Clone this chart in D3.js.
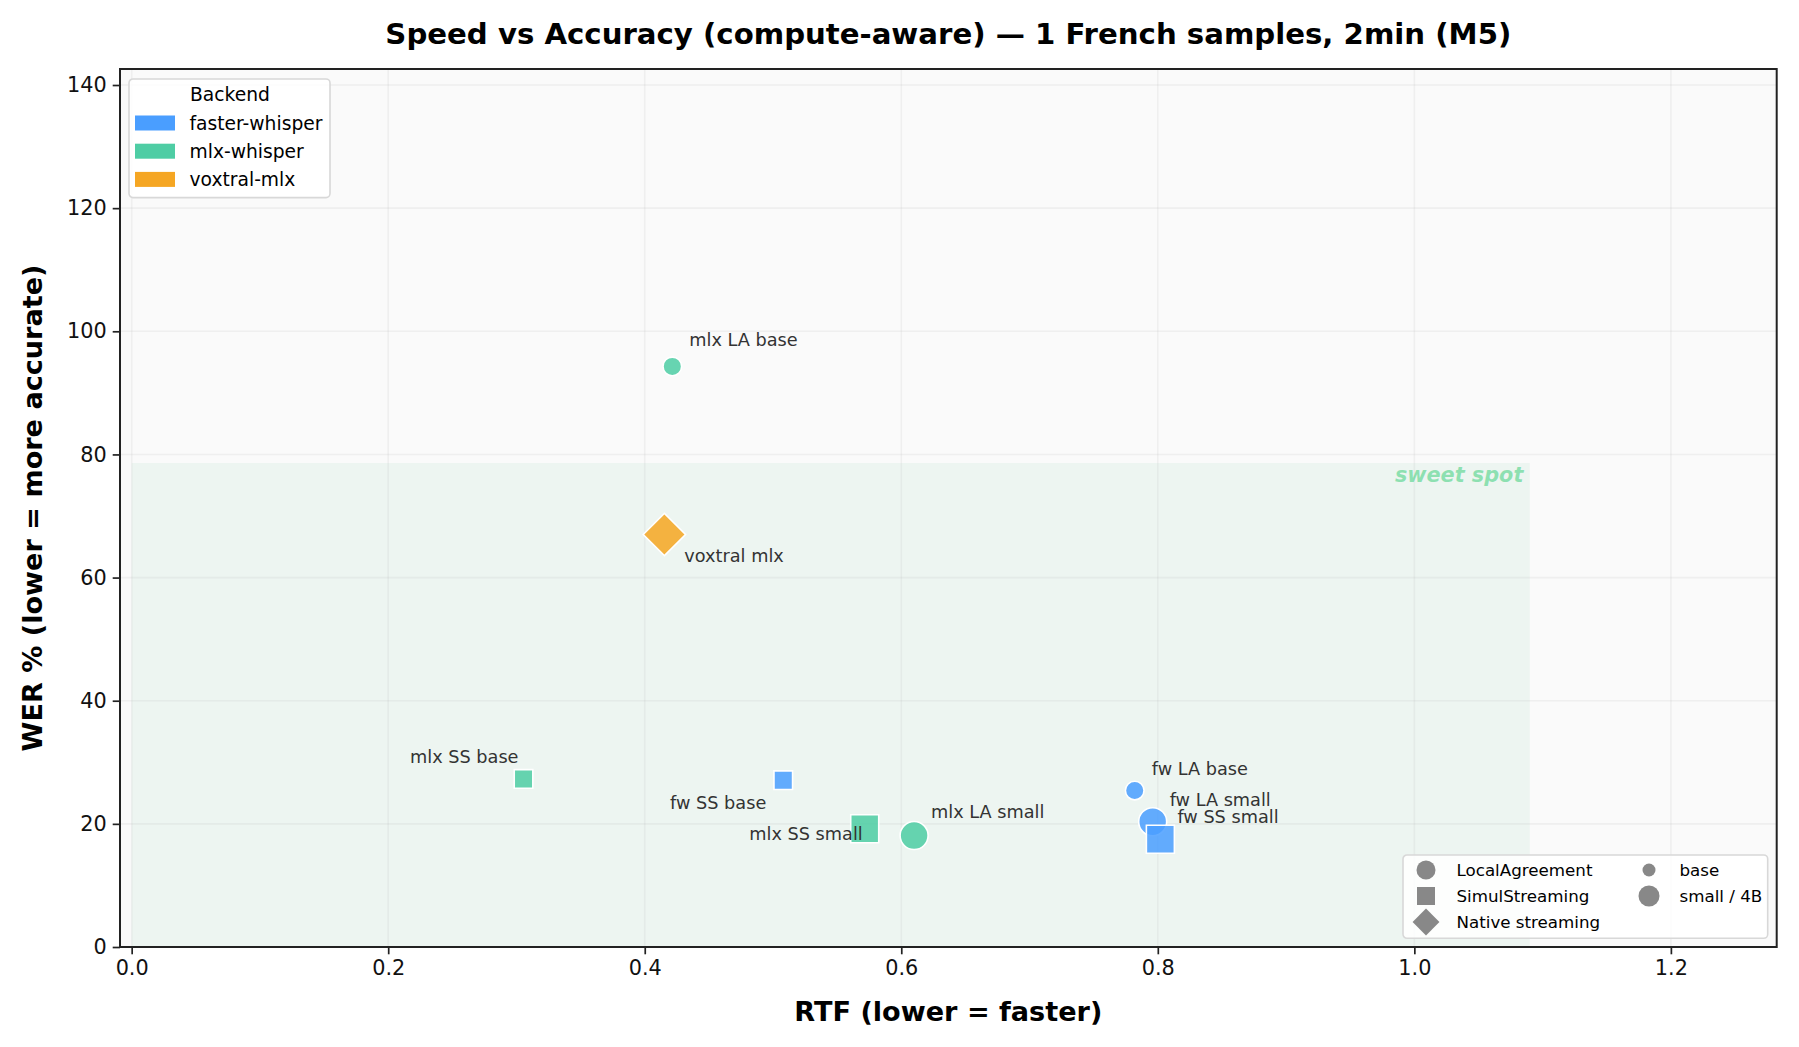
<!DOCTYPE html>
<html>
<head>
<meta charset="utf-8">
<script src="https://cdn.jsdelivr.net/npm/d3@7"></script>
<style>
  body { margin: 0; background: #fff; }
  text { font-family: "DejaVu Sans", sans-serif; }
</style>
</head>
<body>
<svg id="chart"></svg>
<script>
const width = 1799;
const height = 1047;
const plotLeft = 120, plotRight = 1776.7, plotTop = 69, plotBottom = 947;

// данные
const labels = ["fw LA base", "fw LA small", "fw SS base", "fw SS small",
    "mlx LA base", "mlx LA small", "mlx SS base", "mlx SS small", "voxtral mlx"];
const backends = ["faster-whisper", "faster-whisper", "faster-whisper", "faster-whisper",
    "mlx-whisper", "mlx-whisper", "mlx-whisper", "mlx-whisper", "voxtral-mlx"];
const policies = ["LA", "LA", "SS", "SS", "LA", "LA", "SS", "SS", "native"];
const sizes = ["base", "small", "base", "small", "base", "small", "base", "small", "4B"];
const rtf = [0.782, 0.796, 0.508, 0.802, 0.4215, 0.610, 0.3055, 0.5715, 0.4153];
const wer = [25.4, 20.35, 27.1, 17.5, 94.3, 18.1, 27.3, 19.2, 67.0];

const backendNames = ["faster-whisper", "mlx-whisper", "voxtral-mlx"];
const backendColors = ["#4a9eff", "#4ecda4", "#f5a623"];
const policyNames = ["LocalAgreement", "SimulStreaming", "Native streaming"];
const sizeNames = ["base", "small / 4B"];

const xTicks = [0.0, 0.2, 0.4, 0.6, 0.8, 1.0, 1.2];
const yTicks = [0, 20, 40, 60, 80, 100, 120, 140];
const sweetSpot = { rtf: 1.09, wer: 78.6 };

// сдвиги подписей (px): dx, dy, выравнивание
const labelOffsets = {
    "fw LA base": [17, -16, "start"],
    "fw LA small": [17, -16, "start"],
    "fw SS base": [-17, 29, "end"],
    "fw SS small": [17, -16, "start"],
    "mlx LA base": [17, -20, "start"],
    "mlx LA small": [17, -18, "start"],
    "mlx SS base": [-5, -16, "end"],
    "mlx SS small": [-2, 11, "end"],
    "voxtral mlx": [20, 28, "start"]
};

const data = labels.map((l, i) => ({
    label: l, backend: backends[i], policy: policies[i],
    size: sizes[i], rtf: rtf[i], wer: wer[i]
}));

let svg = d3.select("#chart").attr("width", width).attr("height", height);

const scaleX = d3.scaleLinear().domain([-0.0091, 1.2825]).range([plotLeft, plotRight]);
const scaleY = d3.scaleLinear().domain([0, 142.6]).range([plotBottom, plotTop]);
const color = d3.scaleOrdinal().domain(backendNames).range(backendColors);

// фон области графика
svg.append("rect")
    .attr("x", plotLeft).attr("y", plotTop)
    .attr("width", plotRight - plotLeft).attr("height", plotBottom - plotTop)
    .attr("fill", "#fafafa");

// зона sweet spot
svg.append("rect")
    .attr("x", scaleX(0)).attr("y", scaleY(sweetSpot.wer))
    .attr("width", scaleX(sweetSpot.rtf) - scaleX(0))
    .attr("height", scaleY(0) - scaleY(sweetSpot.wer))
    .attr("fill", "#edf5f1");

// сетка
svg.append("g").selectAll("line").data(xTicks).enter().append("line")
    .attr("x1", d => scaleX(d)).attr("x2", d => scaleX(d))
    .attr("y1", plotTop).attr("y2", plotBottom)
    .attr("stroke", "#b0b0b0").attr("stroke-opacity", 0.14).attr("stroke-width", 1.6);
svg.append("g").selectAll("line").data(yTicks).enter().append("line")
    .attr("x1", plotLeft).attr("x2", plotRight)
    .attr("y1", d => scaleY(d)).attr("y2", d => scaleY(d))
    .attr("stroke", "#b0b0b0").attr("stroke-opacity", 0.14).attr("stroke-width", 1.6);

svg.append("text")
    .attr("x", scaleX(1.085)).attr("y", scaleY(sweetSpot.wer) + 19)
    .attr("text-anchor", "end")
    .style("font-size", "20.8px").style("font-weight", "bold").style("font-style", "italic")
    .attr("fill", "#2ecc71").attr("fill-opacity", 0.5)
    .text("sweet spot");

// маркеры
function markerPath(policy, size) {
    if (policy === "native") return d3.symbol(d3.symbolSquare, 30 * 30)();
    const d = size === "base" ? 18.6 : 28;
    if (policy === "LA") return d3.symbol(d3.symbolCircle, Math.PI * d * d / 4)();
    return d3.symbol(d3.symbolSquare, d * d)();
}

svg.append("g").selectAll("path").data(data).enter().append("path")
    .attr("d", d => markerPath(d.policy, d.size))
    .attr("transform", d => `translate(${scaleX(d.rtf)},${scaleY(d.wer)})` + (d.policy === "native" ? " rotate(45)" : ""))
    .attr("fill", d => color(d.backend))
    .attr("fill-opacity", 0.86)
    .attr("stroke", "#fff").attr("stroke-width", 1.6);

// подписи точек
svg.append("g").selectAll("text").data(data).enter().append("text")
    .attr("x", d => scaleX(d.rtf) + labelOffsets[d.label][0])
    .attr("y", d => scaleY(d.wer) + labelOffsets[d.label][1])
    .attr("text-anchor", d => labelOffsets[d.label][2])
    .style("font-size", "17.7px")
    .attr("fill", "#333")
    .text(d => d.label);

// оси
let axisX = d3.axisBottom(scaleX).tickValues(xTicks).tickFormat(d3.format(".1f")).tickSize(7.3).tickPadding(6);
let axisY = d3.axisLeft(scaleY).tickValues(yTicks).tickSize(7.3).tickPadding(6);
let gx = svg.append("g").attr("transform", `translate(0,${plotBottom})`).call(axisX);
let gy = svg.append("g").attr("transform", `translate(${plotLeft},0)`).call(axisY);
[gx, gy].forEach(g => {
    g.select(".domain").remove();
    g.selectAll("line").attr("stroke", "#222").attr("stroke-width", 1.7);
    g.selectAll("text").style("font-size", "20.8px").style("font-family", "DejaVu Sans").attr("fill", "#111");
});

// рамка
svg.append("rect")
    .attr("x", plotLeft).attr("y", plotTop)
    .attr("width", plotRight - plotLeft).attr("height", plotBottom - plotTop)
    .attr("fill", "none").attr("stroke", "#222").attr("stroke-width", 2);

// заголовки
svg.append("text")
    .attr("x", (plotLeft + plotRight) / 2).attr("y", 34)
    .attr("text-anchor", "middle").attr("dominant-baseline", "central")
    .style("font-size", "29.2px").style("font-weight", "bold")
    .text("Speed vs Accuracy (compute-aware) \u2014 1 French samples, 2min (M5)");
svg.append("text")
    .attr("x", (plotLeft + plotRight) / 2).attr("y", 1011)
    .attr("text-anchor", "middle").attr("dominant-baseline", "central")
    .style("font-size", "27.1px").style("font-weight", "bold")
    .text("RTF (lower = faster)");
svg.append("text")
    .attr("transform", `translate(32,${(plotTop + plotBottom) / 2}) rotate(-90)`)
    .attr("text-anchor", "middle").attr("dominant-baseline", "central")
    .style("font-size", "27.1px").style("font-weight", "bold")
    .text("WER % (lower = more accurate)");

// легенда backend
let leg1 = svg.append("g").attr("transform", "translate(129,79)");
leg1.append("rect").attr("width", 201).attr("height", 118.6).attr("rx", 4)
    .attr("fill", "#fff").attr("fill-opacity", 0.85)
    .attr("stroke", "#d8d8d8").attr("stroke-width", 1.6);
leg1.append("text").attr("x", 101).attr("y", 15.5)
    .attr("text-anchor", "middle").attr("dominant-baseline", "central")
    .style("font-size", "18.7px").text("Backend");
let rows1 = leg1.selectAll(".row").data(backendNames).enter().append("g")
    .attr("transform", (d, i) => `translate(0,${44 + i * 28.2})`);
rows1.append("rect").attr("x", 6).attr("y", -7.5).attr("width", 40).attr("height", 15)
    .attr("fill", d => color(d));
rows1.append("text").attr("x", 60.5).attr("y", 0).attr("dominant-baseline", "central")
    .style("font-size", "18.7px").text(d => d);

// легенда форм и размеров
let leg2 = svg.append("g").attr("transform", "translate(1403,855)");
leg2.append("rect").attr("width", 364.7).attr("height", 83.3).attr("rx", 4)
    .attr("fill", "#fff").attr("fill-opacity", 0.85)
    .attr("stroke", "#d8d8d8").attr("stroke-width", 1.6);
const legShapes = ["LA", "SS", "native"];
let rows2 = leg2.selectAll(".shape").data(policyNames).enter().append("g")
    .attr("transform", (d, i) => `translate(0,${15 + i * 26})`);
rows2.append("path")
    .attr("d", (d, i) => legShapes[i] === "native" ? d3.symbol(d3.symbolSquare, 19 * 19)()
        : legShapes[i] === "LA" ? d3.symbol(d3.symbolCircle, Math.PI * 19 * 19 / 4)()
        : d3.symbol(d3.symbolSquare, 18 * 18)())
    .attr("transform", (d, i) => "translate(23,0)" + (legShapes[i] === "native" ? " rotate(45)" : ""))
    .attr("fill", "#888");
rows2.append("text").attr("x", 53.5).attr("y", 0).attr("dominant-baseline", "central")
    .style("font-size", "16.7px").text(d => d);
let rows3 = leg2.selectAll(".size").data(sizeNames).enter().append("g")
    .attr("transform", (d, i) => `translate(0,${15 + i * 26})`);
rows3.append("path")
    .attr("d", (d, i) => d3.symbol(d3.symbolCircle, Math.PI * (i === 0 ? 13 : 21) ** 2 / 4)())
    .attr("transform", "translate(246,0)")
    .attr("fill", "#888");
rows3.append("text").attr("x", 276.5).attr("y", 0).attr("dominant-baseline", "central")
    .style("font-size", "16.7px").text(d => d);
</script>
</body>
</html>
